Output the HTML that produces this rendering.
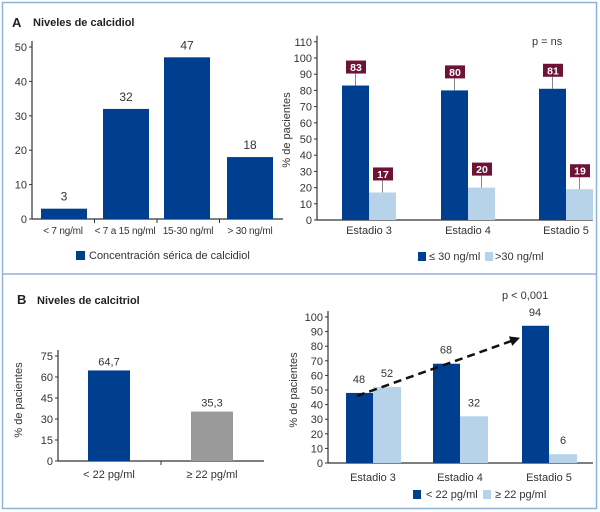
<!DOCTYPE html>
<html><head><meta charset="utf-8">
<style>
html,body{margin:0;padding:0;background:#fff;}
svg{display:block;font-family:"Liberation Sans",sans-serif;}
</style></head>
<body>
<svg id="c" width="600" height="512" viewBox="0 0 600 512">
<rect x="2.5" y="2.5" width="594" height="506" fill="#fff" stroke="#8fb3d9" stroke-width="1.5"/>
<line x1="2" y1="274" x2="597" y2="274" stroke="#8fb3d9" stroke-width="1.5"/>
<text x="12" y="27" font-size="13" font-weight="bold" fill="#222">A</text>
<text x="33" y="26" font-size="11" font-weight="bold" fill="#222">Niveles de calcidiol</text>
<text x="17" y="304" font-size="13" font-weight="bold" fill="#222">B</text>
<text x="37" y="304" font-size="11" font-weight="bold" fill="#222">Niveles de calcitriol</text>
<g id="g"></g>
</svg>
<script>
// Chart A1
const a1Cats=["< 7 ng/ml","< 7 a 15 ng/ml","15-30 ng/ml","> 30 ng/ml"];
const a1Vals=[3,32,47,18];
const a1Ticks=[0,10,20,30,40,50];
// Chart A2
const a2Cats=["Estadio 3","Estadio 4","Estadio 5"];
const a2Low=[83,80,81];
const a2High=[17,20,19];
const a2Ticks=[0,10,20,30,40,50,60,70,80,90,100,110];
// Chart B1
const b1Cats=["< 22 pg/ml","≥ 22 pg/ml"];
const b1Vals=[64.7,35.3];
const b1Labels=["64,7","35,3"];
const b1Ticks=[0,15,30,45,60,75];
// Chart B2
const b2Cats=["Estadio 3","Estadio 4","Estadio 5"];
const b2Low=[48,68,94];
const b2High=[52,32,6];
const b2Ticks=[0,10,20,30,40,50,60,70,80,90,100];

const NS="http://www.w3.org/2000/svg";
const G=document.getElementById('g');
const DARK="#003f8f",LIGHT="#b6d3ea",GRAY="#9a9a9a",TXT="#333";
function el(t,a,txt){const e=document.createElementNS(NS,t);for(const k in a)e.setAttribute(k,a[k]);if(txt!==undefined)e.textContent=txt;G.appendChild(e);return e;}

function axes(x0,x1,y0,yScale,ticks,tickFmt,name){
  const yTop=yScale(ticks[ticks.length-1])-6;
  let e=el('line',{x1:x0,y1:yTop,x2:x0,y2:y0,stroke:"#333","stroke-width":1.2});
  
  e=el('line',{x1:x0,y1:y0,x2:x1,y2:y0,stroke:"#333","stroke-width":1.2});
  
  ticks.forEach(t=>{
    const y=yScale(t);
    let l=el('line',{x1:x0-3,y1:y,x2:x0,y2:y,stroke:"#333"});
    
    let tx=el('text',{x:x0-5,y:y+4,"font-size":11,fill:TXT,"text-anchor":"end"},tickFmt(t));
    
  });
}
function bar(x,w,y,y0,fill,name){
  const r=el('rect',{x:x,y:y,width:w,height:y0-y,fill:fill});
  
}
function txt(x,y,s,name,opt){
  const a=Object.assign({x:x,y:y,"font-size":11,fill:TXT,"text-anchor":"middle"},opt||{});
  const t=el('text',a,s);
  
  return t;
}
function yTitle(x,y,name){
  const t=el('text',{x:0,y:0,"font-size":11,fill:TXT,"text-anchor":"middle",transform:`translate(${x},${y}) rotate(-90)`},"% de pacientes");
  
}

// A1
(function(){
  const y0=219,yS=v=>y0-v*3.44;
  axes(32,283,y0,yS,a1Ticks,String,'a1');
  const cw=62.5;
  const starts=[41,103,164,227];
  const lblX=[63,125,188,250];
  a1Cats.forEach((c,i)=>{
    const xs=starts[i];
    bar(xs,46,yS(a1Vals[i]),y0,DARK,'a1-bar-'+i);
    txt(xs+23,yS(a1Vals[i])-8,String(a1Vals[i]),'a1-value-label',{"font-size":12});
    txt(lblX[i],234,c,'a1-category-label',{"font-size":10,"letter-spacing":"-0.2"});
    if(i>0){const l=el('line',{x1:32+cw*i,y1:y0,x2:32+cw*i,y2:y0+4,stroke:"#333"});}
  });
  const s=el('rect',{x:76,y:251,width:9,height:9,fill:DARK});
  txt(89,259,"Concentración sérica de calcidiol",'a1-legend-label',{"text-anchor":"start"});
})();

// A2
(function(){
  const y0=220,yS=v=>y0-v*1.62;
  axes(317,593,y0,yS,a2Ticks,String,'a2');
  yTitle(290,130,'a2-y-axis-title');
  const starts=[342,441,539];
  a2Cats.forEach((c,i)=>{
    const x=starts[i];
    [[a2Low[i],x,DARK,'low'],[a2High[i],x+27,LIGHT,'high']].forEach(([v,bx,col,k])=>{
      const top=yS(v);
      bar(bx,27,top,y0,col,'a2-bar-'+k+'-'+i);
      const l=el('line',{x1:bx+13.5,y1:top-12,x2:bx+13.5,y2:top,stroke:"#888"});
      
      const r=el('rect',{x:bx+4,y:top-25,width:20,height:13,fill:"#6e1236"});
      
      txt(bx+14,top-14.5,String(v),'a2-value-label',{fill:"#fff","font-weight":"bold","font-size":10.5});
    });
    txt(x+27,234,c,'a2-category-label');
  });
  txt(532,45,"p = ns",'a2-p-value',{"text-anchor":"start"});
  let s=el('rect',{x:418,y:252,width:8,height:9,fill:DARK});
  txt(429,260,"≤ 30 ng/ml",'a2-legend-label-low',{"text-anchor":"start"});
  s=el('rect',{x:485,y:252,width:8,height:9,fill:LIGHT});
  txt(495,260,">30 ng/ml",'a2-legend-label-high',{"text-anchor":"start"});
})();

// B1
(function(){
  const y0=461,yS=v=>y0-v*1.4;
  axes(58,264,y0,yS,b1Ticks,String,'b1');
  yTitle(22,400,'b1-y-axis-title');
  const starts=[88,191],cols=[DARK,GRAY];
  b1Cats.forEach((c,i)=>{
    bar(starts[i],42,yS(b1Vals[i]),y0,cols[i],'b1-bar-'+i);
    txt(starts[i]+21,yS(b1Vals[i])-5,b1Labels[i],'b1-value-label');
    txt(starts[i]+21,478,c,'b1-category-label');
  });
  const l=el('line',{x1:161,y1:y0,x2:161,y2:y0+4,stroke:"#333"});
})();

// B2
(function(){
  const y0=463,yS=v=>y0-v*1.46;
  axes(328,593,y0,yS,b2Ticks,String,'b2');
  yTitle(297,390,'b2-y-axis-title');
  const starts=[346,433,522];
  b2Cats.forEach((c,i)=>{
    const x=starts[i];
    bar(x,27,yS(b2Low[i]),y0,DARK,'b2-bar-low-'+i);
    bar(x+27,28,yS(b2High[i]),y0,LIGHT,'b2-bar-high-'+i);
    txt(x+13,yS(b2Low[i])-10,String(b2Low[i]),'b2-value-label-low');
    txt(x+41,yS(b2High[i])-10,String(b2High[i]),'b2-value-label-high');
    txt(x+27,481,c,'b2-category-label');
  });
  const x1=starts[0]+11,y1v=yS(b2Low[0])+3,x2=starts[2]-2,y2v=yS(b2Low[2])+12;
  const ln=el('line',{x1:x1,y1:y1v,x2:x2-8,y2:y2v+3,stroke:"#111","stroke-width":2.5,"stroke-dasharray":"8,5"});
  
  const ang=Math.atan2(y2v-y1v,x2-x1);
  const hx=x2,hy=y2v,L=10,W=5;
  const p=[[hx,hy],[hx-L*Math.cos(ang)+W*Math.sin(ang),hy-L*Math.sin(ang)-W*Math.cos(ang)],[hx-L*Math.cos(ang)-W*Math.sin(ang),hy-L*Math.sin(ang)+W*Math.cos(ang)]];
  const ah=el('polygon',{points:p.map(q=>q.join(',')).join(' '),fill:"#111"});
  
  txt(502,299,"p < 0,001",'b2-p-value',{"text-anchor":"start"});
  let s=el('rect',{x:413,y:490,width:8,height:9,fill:DARK});
  txt(426,498,"< 22 pg/ml",'b2-legend-label-low',{"text-anchor":"start"});
  s=el('rect',{x:483,y:490,width:8,height:9,fill:LIGHT});
  txt(495,498,"≥ 22 pg/ml",'b2-legend-label-high',{"text-anchor":"start"});
})();
</script>
</body></html>
